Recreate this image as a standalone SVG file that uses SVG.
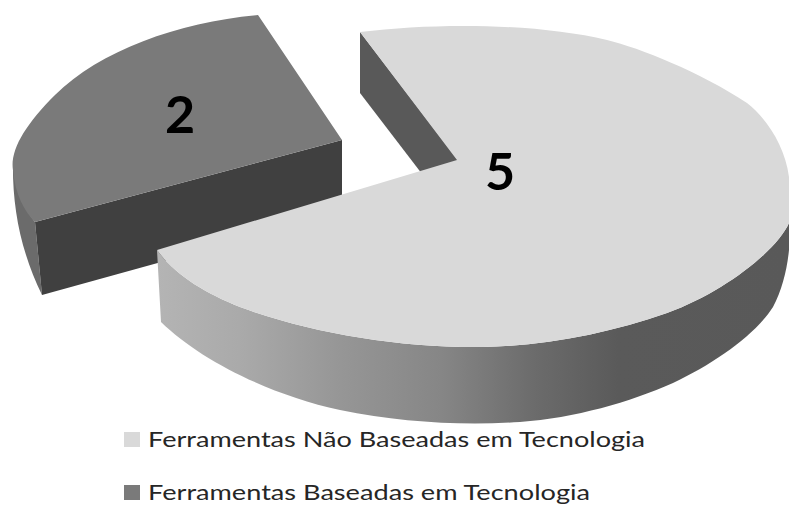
<svg xmlns="http://www.w3.org/2000/svg" width="789" height="505" viewBox="0 0 789 505">
  <style>
    .lbl { font-family: Lato, "Open Sans", "Liberation Sans", sans-serif; font-weight: bold; font-size: 52px; fill: #000; text-anchor: middle; }
    .leg { font-family: Lato, "Open Sans", "Liberation Sans", sans-serif; font-size: 21px; fill: #262626; }
  </style>
  <defs>
    <linearGradient id="sideGrad" gradientUnits="userSpaceOnUse" x1="157" y1="0" x2="789" y2="0">
      <stop offset="0" stop-color="#b4b4b4"/>
      <stop offset="0.13" stop-color="#aaaaaa"/>
      <stop offset="0.29" stop-color="#969696"/>
      <stop offset="0.45" stop-color="#868686"/>
      <stop offset="0.6" stop-color="#6b6b6b"/>
      <stop offset="0.73" stop-color="#5a5a5a"/>
      <stop offset="1" stop-color="#595959"/>
    </linearGradient>
  </defs>
  <rect width="789" height="505" fill="#ffffff"/>

  <g id="slice-tecnologia">
    <path d="M13,160 C12,205 20,250 42,295 L35,222 C24,208 15,188 13,160 Z" fill="#6b6b6b"/>
    <polygon points="35,222 342,140 342,212 42,295" fill="#404040"/>
    <path d="M342,140 L258,15 C180,22 100,50 55,95 C25,125 10,150 13,170 C15,195 25,212 35,222 Z" fill="#7a7a7a"/>
    <text class="lbl" x="180" y="133">2</text>
  </g>

  <g id="slice-nao-tecnologia">
    <path d="M157,250 L161,322 C200,360 270,395 340,410 C400,422 460,426 520,422 C575,418 630,402 673,383 C715,363 755,335 773,307 C782,290 787,270 789,250 L800,250 L800,222 L789,223 C777,250 725,292 667,313 C610,333 545,346 483,347 C400,348 310,333 240,307 C205,293 175,275 157,250 Z" fill="url(#sideGrad)"/>
    <polygon points="360,32 458,160 458,221 360,93" fill="#595959"/>
    <path d="M457,160 L360,32 C440,22 540,24 607,40 C640,48 700,72 747,103 C765,117 785,145 789,177 L800,177 L800,222 L789,223 C777,250 725,292 667,313 C610,333 545,346 483,347 C400,348 310,333 240,307 C205,293 175,275 157,250 Z" fill="#d9d9d9"/>
    <text class="lbl" x="500" y="190">5</text>
  </g>

  <g id="legend">
    <g id="legend-nao">
      <rect x="124" y="432" width="16" height="15" fill="#d9d9d9"/>
      <text class="leg" x="148" y="447" textLength="497" lengthAdjust="spacingAndGlyphs">Ferramentas Não Baseadas em Tecnologia</text>
    </g>
    <g id="legend-sim">
      <rect x="124" y="485" width="16" height="15" fill="#7a7a7a"/>
      <text class="leg" x="148" y="500" textLength="442" lengthAdjust="spacingAndGlyphs">Ferramentas Baseadas em Tecnologia</text>
    </g>
  </g>
</svg>
